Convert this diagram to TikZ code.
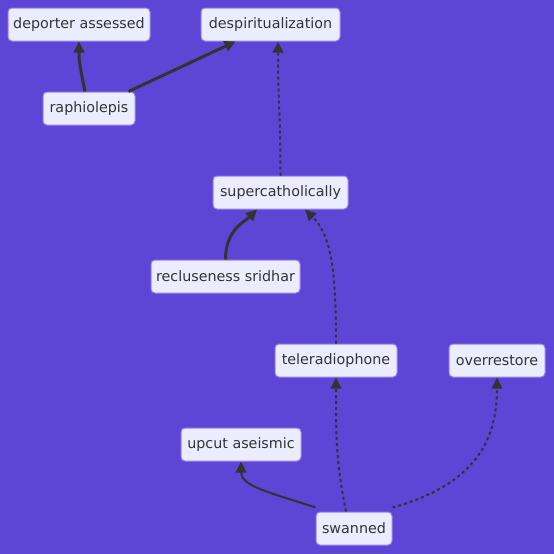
\documentclass[tikz,border=0pt]{standalone}
\usepackage{fontspec}
\setmainfont{DejaVu Sans}
\usetikzlibrary{arrows.meta,calc}
\definecolor{bg}{HTML}{5D45D5}
\definecolor{nodefill}{HTML}{ECECFF}
\definecolor{nodeborder}{HTML}{9A82E6}
\definecolor{ink}{HTML}{333333}
\begin{document}
\begin{tikzpicture}[x=1pt,y=-1pt,
  box/.style={draw=nodeborder,fill=nodefill,line width=1pt,rounded corners=4pt,
    minimum height=33pt,inner sep=0pt,text=ink,font=\fontsize{14.3}{16}\selectfont},
  tip/.style={-{Triangle[length=11pt,width=10.5pt]}},
  thickedge/.style={ink,line width=3pt,tip},
  normaledge/.style={ink,line width=2pt,tip},
  dottededge/.style={ink,line width=2pt,dash pattern=on 3pt off 3pt,tip}]
\fill[bg] (0,0) rectangle (554,554);
\useasboundingbox (0,0) rectangle (554,554);
\node[box,minimum width=142pt] (dep) at (79,24.5) {deporter assessed};
\node[box,minimum width=139pt] (des) at (270.5,24.5) {despiritualization};
\node[box,minimum width=92pt] (rap) at (89,108.5) {raphiolepis};
\node[box,minimum width=135pt] (sup) at (280.5,192.5) {supercatholically};
\node[box,minimum width=149pt] (rec) at (225.5,276.5) {recluseness sridhar};
\node[box,minimum width=122pt] (tel) at (336,360.5) {teleradiophone};
\node[box,minimum width=96pt] (ove) at (497,360.5) {overrestore};
\node[box,minimum width=120pt] (upc) at (241,444.5) {upcut aseismic};
\node[box,minimum width=76pt] (swa) at (354,528.5) {swanned};
% edges
\draw[thickedge] ([xshift=-4pt]rap.north) .. controls ($([xshift=-4pt]rap.north)+(-5,-25)$) and ($(dep.south)+(0,20)$) .. (dep.south);
\draw[thickedge] ([xshift=-7pt]rap.north east) -- ([xshift=-35pt]des.south);
\draw[dottededge] (sup.north) .. controls ($(sup.north)+(0,-60)$) and ($([xshift=7.5pt]des.south)+(0,60)$) .. ([xshift=7.5pt]des.south);
\draw[thickedge] (rec.north) .. controls ($(rec.north)+(0,-30)$) and ($([xshift=-23.5pt]sup.south)+(-12,12)$) .. ([xshift=-23.5pt]sup.south);
\draw[dottededge] (tel.north) .. controls ($(tel.north)+(0,-80)$) and ($([xshift=24.5pt]sup.south)+(25,25)$) .. ([xshift=24.5pt]sup.south);
\draw[normaledge] ([yshift=4pt]swa.north west) .. controls ($([yshift=4pt]swa.north west)+(-45,-15)$) and ($(upc.south)+(0,25)$) .. (upc.south);
\draw[dottededge] ([xshift=-8pt]swa.north) .. controls ($([xshift=-8pt]swa.north)+(-10,-50)$) and ($(tel.south)+(0,60)$) .. (tel.south);
\draw[dottededge] ([yshift=4pt]swa.north east) .. controls ($([yshift=4pt]swa.north east)+(90,-25)$) and ($(ove.south)+(0,55)$) .. (ove.south);
\end{tikzpicture}
\end{document}
